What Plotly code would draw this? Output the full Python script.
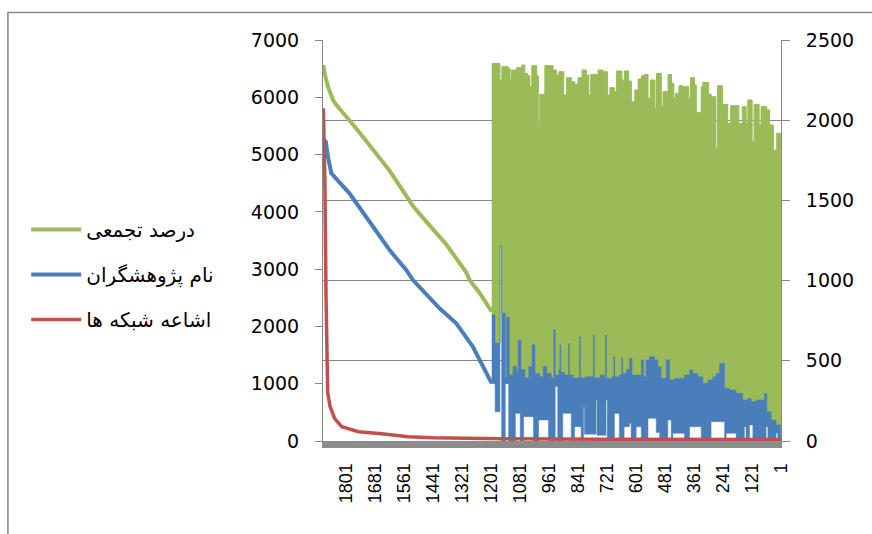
import plotly.graph_objects as go

# ---------------- data ----------------
names = ["درصد تجمعی", "نام پژوهشگران", "اشاعه شبکه ها"]
x_tick_labels = [1801, 1681, 1561, 1441, 1321, 1201, 1081, 961, 841, 721, 601, 481, 361, 241, 121, 1]

# smooth (sorted) part, category index -> value (left axis)
green_x = [1895, 1890, 1876, 1855, 1841, 1800, 1758, 1690, 1621, 1566, 1524, 1469, 1386, 1303, 1290, 1248, 1198]
green_y = [6563, 6418, 6185, 5952, 5865, 5670, 5450, 5090, 4720, 4370, 4100, 3830, 3430, 2940, 2810, 2583, 2257]

blue_x = [1895, 1885, 1876, 1862, 1787, 1690, 1621, 1552, 1524, 1414, 1345, 1276, 1235, 1198]
blue_y = [5250, 5225, 4963, 4672, 4323, 3741, 3334, 2985, 2810, 2316, 2054, 1646, 1297, 1007]

# red series (right axis)
red_x = [1895, 1889, 1884, 1881, 1877, 1867, 1848, 1819, 1750, 1654, 1543, 1440, 1337, 1158, 745, 332, 1]
red_y = [2075, 1650, 900, 450, 300, 214, 140, 89, 58, 45, 27, 20, 17, 14, 11, 10, 9]

# unsorted part: envelopes of the oscillating values (start index of each run, value)
green_top_x = [1198, 1164, 1156, 1130, 1122, 1116, 1095, 1074, 1061, 1049, 1040, 1032, 1012, 1005, 999,
               978, 944, 930, 920, 900, 888, 868, 854, 841, 824, 806, 796, 788, 758, 737, 719, 709,
               689, 681, 659, 649, 631, 620, 606, 592, 578, 565, 551, 541, 522, 516, 496, 489, 468,
               454, 444, 437, 423, 407, 382, 375, 358, 351, 331, 324, 300, 289, 270, 263, 243, 221,
               209, 175, 161, 145, 138, 120, 112, 91, 83, 59, 48, 32, 18]
green_top_y = [6592, 6302, 6534, 6505, 6302, 6476, 6517, 6563, 6418, 6377, 6185, 6552, 6377, 5516, 6051,
               6552, 6476, 6389, 6447, 6040, 6342, 6272, 6226, 6342, 6476, 6389, 6040, 6400, 6476, 6447, 6040, 6168,
               6098, 6459, 6302, 6459, 6284, 5923, 6127, 6319, 6377, 6400, 5982, 6302, 5807, 6418, 5836, 6098, 6400,
               6243, 5982, 6069, 6203, 6185, 5982, 6342, 6214, 5737, 6185, 6261, 6051, 6011, 5109, 6203, 5877, 5545,
               5854, 5545, 5836, 5545, 5953, 5225, 5877, 5516, 5836, 5778, 5516, 5080, 5371]

blue_top_x = [1198, 1184, 1164, 1157, 1142, 1137, 1125, 1110, 1095, 1089, 1077, 1060, 1045, 1031, 1019,
              1000, 985, 970, 951, 941, 935, 920, 916, 912, 895, 880, 876, 860, 835, 831, 810, 777,
              773, 750, 730, 727, 723, 700, 693, 689, 670, 660, 656, 640, 628, 617, 579, 569, 559,
              545, 524, 510, 497, 476, 462, 441, 400, 379, 365, 345, 324, 303, 283, 269, 255, 234,
              214, 186, 159, 138, 124, 103, 69, 59, 41, 21]
blue_top_y = [2200, 1710, 3400, 2230, 1100, 2160, 1150, 1300, 1200, 1760, 1250, 1100, 1300, 1680, 1180,
              1120, 1300, 1180, 1100, 1940, 1150, 1250, 1680, 1200, 1150, 1700, 1150, 1100, 1820, 1100, 1120, 1850,
              1100, 1150, 1100, 1850, 1090, 1130, 1470, 1120, 1150, 1450, 1180, 1250, 1443, 1152, 1414, 1123, 1414,
              1472, 1414, 1297, 1094, 1414, 1065, 1094, 1152, 1239, 1181, 1123, 1007, 1065, 1123, 1181, 1356, 919,
              890, 832, 716, 745, 687, 716, 830, 512, 367, 280]

blue_low_x = [1198, 1184, 1164, 1157, 1142, 1128, 1100, 1080, 1066, 1025, 1004, 963, 935, 925, 904, 869,
              855, 828, 818, 814, 766, 762, 725, 720, 690, 670, 650, 628, 621, 600, 579, 551, 517,
              503, 469, 455, 448, 400, 379, 331, 290, 234, 227, 186, 152, 145, 131, 117, 62, 55, 21, 14]
blue_low_y = [1000, 512, 3400, 0, 1000, 0, 483, 0, 425, 0, 367, 0, 950, 0, 483, 0,
              250, 0, 600, 120, 716, 100, 716, 0, 480, 0, 250, 308, 0, 250, 0, 396, 150,
              0, 367, 0, 134, 0, 250, 0, 337, 0, 134, 0, 250, 0, 280, 0, 250, 0, 134, 0]

GREEN = "#9BBB59"
BLUE = "#4A7EBB"
RED = "#C0504D"
GRAY = "#868686"


def step_path(starts, vals, end=1):
    xs, ys = [], []
    ends = starts[1:] + [end]
    for s, e, v in zip(starts, ends, vals):
        xs += [s, e]
        ys += [v, v]
    return xs, ys


gtx, gty = step_path(green_top_x, green_top_y)
btx, bty = step_path(blue_top_x, blue_top_y)
blx, bly = step_path(blue_low_x, blue_low_y)

fig = go.Figure()

# green series
fig.add_trace(go.Scatter(x=green_x, y=green_y, mode="lines", name=names[0],
                         line=dict(color=GREEN, width=4), legendgroup="g"))
fig.add_trace(go.Scatter(x=gtx + btx[::-1], y=gty + bty[::-1], mode="lines", fill="toself",
                         fillcolor=GREEN, line=dict(color=GREEN, width=1), showlegend=False,
                         hoverinfo="skip"))
# blue series
fig.add_trace(go.Scatter(x=blue_x, y=blue_y, mode="lines", name=names[1],
                         line=dict(color=BLUE, width=4), legendgroup="b"))
fig.add_trace(go.Scatter(x=btx + blx[::-1], y=bty + bly[::-1], mode="lines", fill="toself",
                         fillcolor=BLUE, line=dict(color=BLUE, width=0.5), showlegend=False,
                         hoverinfo="skip"))
# red series on the right axis
fig.add_trace(go.Scatter(x=red_x, y=red_y, mode="lines", name=names[2], yaxis="y2",
                         line=dict(color=RED, width=3.5), legendgroup="r"))

fig.update_layout(
    width=872, height=534,
    margin=dict(l=323, r=90.5, t=40, b=93, autoexpand=False),
    paper_bgcolor="white", plot_bgcolor="white",
    showlegend=True,
    xaxis=dict(range=[1896.5, 0.5], tickmode="array", tickvals=x_tick_labels,
               ticktext=[str(v) for v in x_tick_labels], tickangle=-90,
               showgrid=False, zeroline=False, showline=True, linecolor="#8C8C8C", linewidth=7,
               ticks="", ticklabelstandoff=8,
               tickfont=dict(family="Liberation Sans", size=18, color="black")),
    yaxis=dict(range=[0, 7000], dtick=1000, showgrid=False, zeroline=False,
               showline=True, linecolor=GRAY, linewidth=1, ticks="outside", ticklen=7,
               tickcolor=GRAY, ticklabelstandoff=12,
               tickfont=dict(family="DejaVu Sans", size=19, color="black")),
    yaxis2=dict(range=[0, 2500], dtick=500, overlaying="y", side="right", showgrid=True,
                gridcolor=GRAY, gridwidth=1, zeroline=False, showline=True, linecolor=GRAY,
                linewidth=1, ticks="outside", ticklen=8, tickcolor=GRAY, ticklabelstandoff=12,
                tickfont=dict(family="DejaVu Sans", size=19, color="black")),
    legend=dict(x=-0.648, xanchor="left", y=0.415, yanchor="middle", itemwidth=50,
                font=dict(family="DejaVu Sans", size=20, color="black"),
                tracegroupgap=16, traceorder="grouped", bgcolor="rgba(0,0,0,0)"),
    shapes=[dict(type="rect", xref="paper", yref="paper", x0=-0.688, x1=1.5, y0=-0.6, y1=1.0686,
                 line=dict(color=GRAY, width=1.5), fillcolor="rgba(0,0,0,0)", layer="below")],
)

fig.write_html("out.html", config={"displayModeBar": False},
               post_script="document.body.style.margin='0px';")
